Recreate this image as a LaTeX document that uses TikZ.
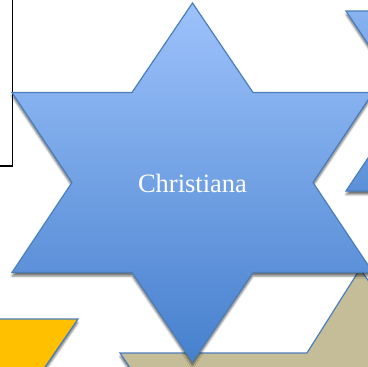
\documentclass[tikz,border=0pt]{standalone}
\usepackage{fontspec}
\setmainfont{Liberation Serif}
\usetikzlibrary{shadows.blur}

\definecolor{edgeblue}{HTML}{4A7EBB}
\definecolor{startop}{RGB}{157,194,251}
\definecolor{starbot}{RGB}{70,128,205}
\definecolor{tanfill}{HTML}{C4BD97}
\definecolor{goldfill}{HTML}{FFC000}

% six pointed star round centre (#1,#2)
\newcommand{\hexagram}[2]{(#1,#2-179.5) -- ++(60.5,89.5) -- ++(120,0) -- ++(-60,90)
  -- ++(60,90) -- ++(-120,0) -- ++(-60.5,89.5) -- ++(-60.5,-89.5) -- ++(-120,0)
  -- ++(60,-90) -- ++(-60,-90) -- ++(120,0) -- cycle}

\tikzset{
  piece/.style={draw=edgeblue,line width=1.2pt,line join=miter,
    blur shadow={shadow xshift=0pt,shadow yshift=-3.5pt,shadow blur radius=2pt,shadow opacity=55}},
  bluestar/.style={piece,top color=startop,bottom color=starbot},
  label/.style={text=white,font=\fontsize{26.5}{30}\selectfont,anchor=base}
}

\begin{document}
\begin{tikzpicture}[x=1pt,y=-1pt]
\clip (0,0) rectangle (368,367);

\draw[black,line width=1.3pt] (-20,-20) rectangle (12.5,166);

\path[piece,fill=goldfill] (-20,319) -- (78,319) -- (30,389) -- (-20,389) -- cycle;
\path[piece,fill=tanfill] (120,353) -- (307,353) -- (360,269) -- (420,353)
  -- (440,400) -- (152,400) -- cycle;

\path[bluestar] \hexagram{526.5}{101};
\path[bluestar] \hexagram{192.5}{182.5};

\node[label] (christiana) at (192.5,192) {Christiana};
\end{tikzpicture}
\end{document}
